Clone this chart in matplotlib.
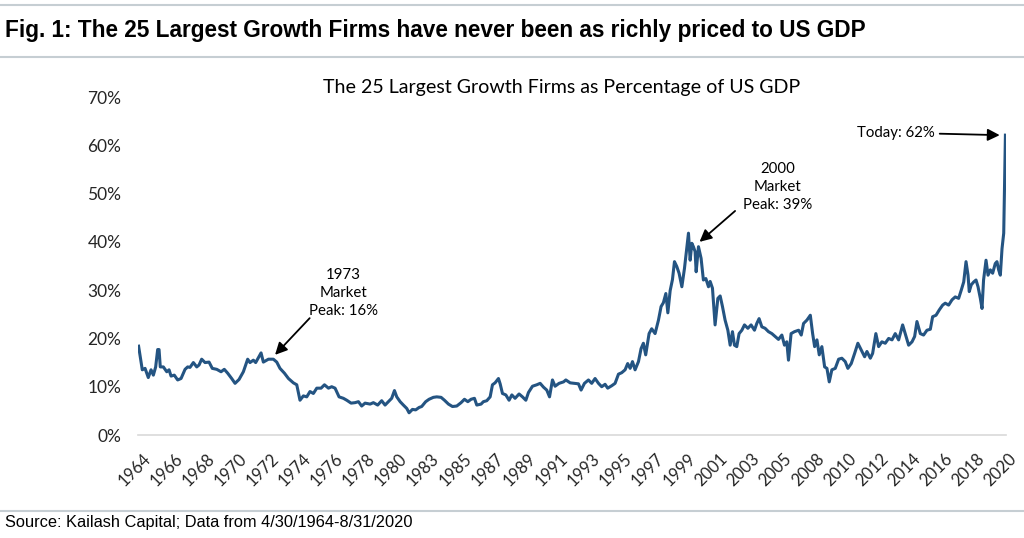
"""Recreate the 25 largest growth firms vs US GDP chart."""

from __future__ import annotations

from matplotlib import pyplot as plt
from matplotlib.lines import Line2D
from matplotlib.transforms import ScaledTranslation

# * -------------------------------------------------------------------------------- * #
# * DATA

YEARS = [
    1964.33, 1964.57, 1964.75, 1964.96, 1965.14, 1965.29, 1965.44, 1965.57, 1965.66,
    1965.74, 1965.94, 1966.16, 1966.31, 1966.44, 1966.65, 1966.87, 1967.09, 1967.35,
    1967.52, 1967.67, 1967.89, 1968.11, 1968.26, 1968.43, 1968.65, 1968.91, 1969.12,
    1969.41, 1969.69, 1969.90, 1970.12, 1970.38, 1970.60, 1970.86, 1971.14, 1971.42,
    1971.57, 1971.79, 1971.94, 1972.29, 1972.44, 1972.77, 1973.09, 1973.31, 1973.52,
    1973.81, 1974.07, 1974.39, 1974.61, 1974.82, 1975.04, 1975.26, 1975.47, 1975.69,
    1975.91, 1976.19, 1976.41, 1976.67, 1976.88, 1977.10, 1977.36, 1977.64, 1977.86,
    1978.14, 1978.40, 1978.62, 1978.83, 1979.05, 1979.38, 1979.59, 1979.87, 1980.13,
    1980.35, 1980.57, 1980.78, 1980.96, 1981.11, 1981.33, 1981.54, 1981.76, 1981.91,
    1982.13, 1982.34, 1982.56, 1982.73, 1982.99, 1983.21, 1983.49, 1983.71, 1983.99,
    1984.21, 1984.47, 1984.73, 1985.01, 1985.29, 1985.51, 1985.73, 1985.94, 1986.16,
    1986.31, 1986.59, 1986.74, 1986.96, 1987.18, 1987.33, 1987.50, 1987.72, 1987.83,
    1987.98, 1988.20, 1988.41, 1988.59, 1988.80, 1989.06, 1989.28, 1989.50, 1989.67,
    1989.93, 1990.21, 1990.43, 1990.65, 1990.86, 1991.04, 1991.23, 1991.40, 1991.66,
    1991.95, 1992.10, 1992.38, 1992.66, 1992.92, 1993.09, 1993.31, 1993.57, 1993.78,
    1994.00, 1994.22, 1994.43, 1994.65, 1994.82, 1995.08, 1995.30, 1995.52, 1995.73,
    1995.95, 1996.12, 1996.28, 1996.43, 1996.60, 1996.82, 1996.99, 1997.14, 1997.29,
    1997.51, 1997.68, 1997.90, 1998.12, 1998.29, 1998.44, 1998.60, 1998.73, 1998.88,
    1999.03, 1999.16, 1999.31, 1999.46, 1999.64, 1999.81, 1999.96, 2000.07, 2000.18,
    2000.29, 2000.39, 2000.50, 2000.57, 2000.72, 2000.89, 2001.04, 2001.20, 2001.37,
    2001.48, 2001.63, 2001.80, 2001.98, 2002.13, 2002.28, 2002.45, 2002.63, 2002.78,
    2002.93, 2003.06, 2003.21, 2003.36, 2003.54, 2003.71, 2003.93, 2004.14, 2004.36,
    2004.51, 2004.66, 2004.84, 2005.05, 2005.27, 2005.49, 2005.70, 2005.92, 2006.14,
    2006.31, 2006.46, 2006.57, 2006.74, 2006.96, 2007.23, 2007.40, 2007.55, 2007.77,
    2007.99, 2008.14, 2008.27, 2008.42, 2008.57, 2008.74, 2008.92, 2009.07, 2009.22,
    2009.39, 2009.61, 2009.83, 2010.04, 2010.26, 2010.43, 2010.65, 2010.87, 2011.08,
    2011.30, 2011.52, 2011.67, 2011.89, 2012.04, 2012.25, 2012.43, 2012.64, 2012.86,
    2013.08, 2013.30, 2013.51, 2013.73, 2013.99, 2014.16, 2014.38, 2014.60, 2014.77,
    2014.92, 2015.14, 2015.35, 2015.57, 2015.79, 2015.94, 2016.16, 2016.37, 2016.59,
    2016.76, 2016.98, 2017.20, 2017.41, 2017.63, 2017.80, 2017.96, 2018.11, 2018.24,
    2018.32, 2018.45, 2018.61, 2018.76, 2018.89, 2019.04, 2019.15, 2019.25, 2019.41,
    2019.54, 2019.69, 2019.84, 2020.01, 2020.12, 2020.23, 2020.34, 2020.45, 2020.56,
    2020.67,
]
PCT_OF_GDP = [
    18.4, 13.5, 13.8, 11.9, 13.5, 12.4, 14.1, 17.7, 17.7,
    14.1, 14.1, 13.1, 13.5, 12.2, 12.4, 11.4, 11.7, 13.6,
    14.1, 14.0, 15.0, 14.1, 14.5, 15.7, 15.0, 15.1, 13.8,
    13.6, 13.1, 13.6, 12.8, 11.7, 10.7, 11.5, 13.1, 15.7,
    15.0, 15.5, 15.0, 17.0, 15.1, 15.7, 15.7, 15.1, 13.8,
    12.8, 11.7, 10.8, 10.4, 7.2, 8.1, 7.9, 9.0, 8.6,
    9.7, 9.7, 10.4, 9.7, 10.0, 9.7, 7.9, 7.6, 7.2,
    6.6, 6.7, 6.9, 6.0, 6.6, 6.4, 6.7, 6.2, 7.1,
    6.2, 6.9, 7.6, 9.2, 7.9, 6.9, 6.2, 5.5, 4.6,
    5.3, 5.2, 5.7, 5.9, 6.9, 7.4, 7.8, 7.9, 7.8,
    7.2, 6.4, 5.9, 6.0, 6.7, 7.4, 6.9, 7.4, 7.6,
    6.2, 6.4, 6.9, 7.1, 7.9, 10.4, 10.8, 11.7, 10.6,
    8.6, 8.3, 7.2, 8.3, 7.6, 8.5, 7.9, 7.2, 8.8,
    10.1, 10.4, 10.7, 9.9, 9.3, 7.9, 11.4, 10.1, 10.7,
    11.0, 11.4, 10.8, 10.7, 10.6, 9.3, 10.7, 11.4, 10.7,
    11.7, 10.7, 10.0, 10.5, 9.7, 10.2, 10.7, 12.6, 12.9,
    13.5, 14.8, 13.8, 15.2, 13.5, 15.2, 17.9, 19.0, 16.6,
    21.0, 22.0, 21.0, 23.8, 26.6, 27.4, 29.3, 25.3, 29.9,
    32.2, 35.9, 34.9, 33.5, 30.7, 34.5, 38.6, 41.8, 36.2,
    39.7, 39.0, 38.0, 33.8, 39.0, 36.6, 32.1, 32.4, 30.7,
    31.8, 30.4, 22.8, 28.3, 28.8, 26.6, 23.8, 21.7, 18.6,
    21.4, 18.6, 18.3, 21.0, 21.7, 22.8, 22.1, 22.8, 21.7,
    23.1, 24.1, 22.4, 22.1, 21.4, 21.0, 20.4, 19.8, 20.7,
    18.6, 19.3, 15.5, 21.0, 21.4, 21.7, 20.7, 23.1, 23.8,
    24.8, 21.0, 18.3, 19.7, 16.6, 18.3, 14.1, 13.8, 11.0,
    13.5, 13.8, 15.7, 15.9, 15.2, 13.8, 14.8, 16.9, 19.0,
    17.6, 16.2, 17.3, 15.9, 16.9, 21.0, 18.3, 19.3, 19.0,
    20.0, 19.7, 21.0, 19.7, 22.8, 21.0, 18.6, 19.3, 20.4,
    23.5, 21.0, 20.7, 21.7, 21.9, 24.5, 24.8, 25.9, 26.9,
    27.3, 26.9, 28.0, 28.6, 28.3, 30.0, 31.7, 35.9, 33.1,
    29.7, 31.1, 31.7, 32.1, 30.7, 28.3, 26.2, 32.1, 36.2,
    33.1, 34.2, 33.5, 35.5, 35.9, 34.2, 33.1, 38.6, 41.8,
    62.1,
]

# Excel category axis: a label every 25 monthly points starting at 4/1964
TICK_LABELS = [
    "1964", "1966", "1968", "1970", "1972", "1974", "1976", "1978", "1980", "1983",
    "1985", "1987", "1989", "1991", "1993", "1995", "1997", "1999", "2001", "2003",
    "2005", "2008", "2010", "2012", "2014", "2016", "2018", "2020",
]
FIRST_MONTH = 1964 + 4 / 12
TICK_STEP_MONTHS = 25
Y_TICKS = [0, 10, 20, 30, 40, 50, 60, 70]

FIG_TITLE = "Fig. 1: The 25 Largest Growth Firms have never been as richly priced to US GDP"
CHART_TITLE = "The 25 Largest Growth Firms as Percentage of US GDP"
SOURCE = "Source: Kailash Capital; Data from 4/30/1964-8/31/2020"

# (label, text position, arrow tail, arrow head, horizontal alignment)
ANNOTATIONS = [
    ("1973\nMarket\nPeak: 16%", (1977.62, 29.4), (1975.45, 24.2), (1973.2, 16.6), "center"),
    ("2000\nMarket\nPeak: 39%", (2005.88, 51.3), (2003.1, 46.4), (2000.79, 40.0), "center"),
    ("Today: 62%", (2016.1, 62.6), (2016.4, 62.4), (2020.3, 62.1), "right"),
]

# * -------------------------------------------------------------------------------- * #
# * STYLE

LINE_COLOR = "#245482"
RULE_COLOR = "#c6ced3"
AXIS_COLOR = "#d9d9d9"
W, H = 1024, 538


def px(x: float, y: float) -> tuple[float, float]:
    """Convert pixel coordinates (from the top left) to figure fractions."""
    return x / W, 1 - y / H


# * -------------------------------------------------------------------------------- * #
# * MAIN


def main():
    plt.rcParams["font.family"] = ["Lato", "DejaVu Sans"]
    fig = plt.figure(figsize=(W / 100, H / 100), dpi=100)

    # Page furniture
    for y in (5, 57, 511):
        fig.add_artist(
            Line2D([0, 1], [px(0, y)[1]] * 2, color=RULE_COLOR, lw=1.5)
        )
    fig.text(
        *px(5, 31), FIG_TITLE, family="Liberation Sans", weight="bold",
        fontsize=16.3, va="center", ha="left",
    )
    fig.text(
        *px(5, 523), SOURCE, family="Liberation Sans", fontsize=11.8,
        va="center", ha="left",
    )
    fig.text(*px(562, 87), CHART_TITLE, fontsize=14.1, ha="center", va="center")

    # Axes
    left, top = 138, 97
    right, bottom = 1006, 435
    ax = fig.add_axes(
        (left / W, 1 - bottom / H, (right - left) / W, (bottom - top) / H)
    )
    ax.plot(YEARS, PCT_OF_GDP, color=LINE_COLOR, lw=2.2, solid_joinstyle="round")

    ax.set_xlim(FIRST_MONTH - 0.5 / 12, FIRST_MONTH + 676.5 / 12)
    ax.set_ylim(0, 70)
    ticks = [FIRST_MONTH + i * TICK_STEP_MONTHS / 12 for i in range(len(TICK_LABELS))]
    ax.set_xticks(ticks, TICK_LABELS, rotation=45, ha="right", rotation_mode="anchor")
    ax.set_yticks(Y_TICKS, [f"{v}%" for v in Y_TICKS])
    ax.tick_params(axis="x", length=0, pad=11, labelsize=12, labelcolor="#262626")
    ax.tick_params(axis="y", length=0, pad=12, labelsize=12.5, labelcolor="#262626")
    nudge = ScaledTranslation(4 / 100, 0, fig.dpi_scale_trans)
    for label in ax.get_xticklabels():
        label.set_transform(label.get_transform() + nudge)
    for side in ("top", "right", "left"):
        ax.spines[side].set_visible(False)
    ax.spines["bottom"].set_color(AXIS_COLOR)
    ax.spines["bottom"].set_linewidth(1.2)

    # Annotations
    for label, text_xy, tail, head, ha in ANNOTATIONS:
        ax.text(*text_xy, label, fontsize=10.8, ha=ha, va="center", linespacing=1.35)
        ax.annotate(
            "",
            xy=head,
            xytext=tail,
            arrowprops=dict(
                arrowstyle="-|>,head_length=0.6,head_width=0.3",
                color="black",
                lw=1.3,
                shrinkA=0,
                shrinkB=0,
                mutation_scale=12,
            ),
        )

    fig.savefig("out.png", dpi=100)


if __name__ == "__main__":
    main()
